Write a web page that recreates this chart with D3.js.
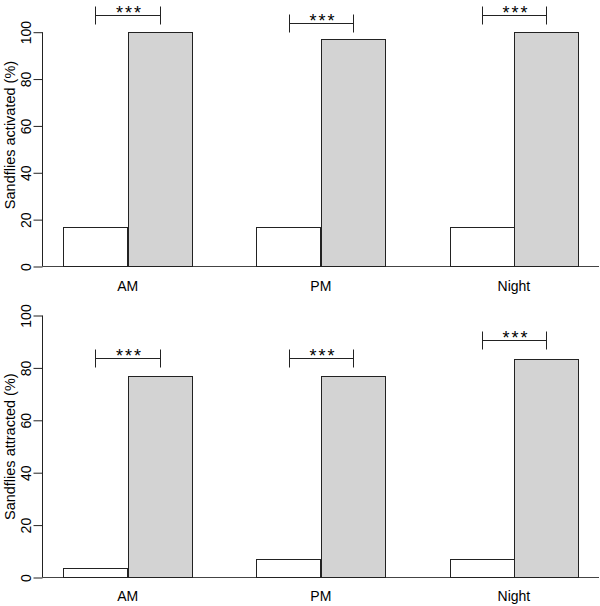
<!DOCTYPE html>
<html><head><meta charset="utf-8">
<script src="https://cdn.jsdelivr.net/npm/d3@7"></script>
<style>body{margin:0;background:#fff}svg{display:block;font-family:"Liberation Sans",Arial,sans-serif}</style>
</head><body>
<script>
const categories = ["AM", "PM", "Night"];
const series = ["control", "treatment"];
const activatedControl = [16.7, 16.7, 16.7];
const activatedTreatment = [100, 96.7, 100];
const attractedControl = [3.3, 6.7, 6.7];
const attractedTreatment = [76.7, 76.7, 83.3];
const yTicks = [0, 20, 40, 60, 80, 100];
const significance = ["***", "***", "***"];
const panelTitles = ["Sandflies activated (%)", "Sandflies attracted (%)"];

const W = 600, H = 606;
const svg = d3.select("body").append("svg").attr("width", W).attr("height", H);

const panels = [
  {ctrl: activatedControl, trt: activatedTreatment, label: panelTitles[0], y0: 266, y100: 31.7, labY: 135, catY: 290.5},
  {ctrl: attractedControl, trt: attractedTreatment, label: panelTitles[1], y0: 577, y100: 315, labY: 446.7, catY: 601}
];

const x = d3.scaleBand().domain(categories).range([63.3, 578.3]).paddingInner(1/3).paddingOuter(0);
const xs = d3.scaleBand().domain(series).range([0, x.bandwidth()]);
const fills = {control: "#ffffff", treatment: "#d3d3d3"};

panels.forEach(p => {
  const y = d3.scaleLinear().domain([0, 100]).range([p.y0, p.y100]);
  const g = svg.append("g");

  // baseline
  g.append("line").attr("x1", 42.5).attr("x2", 599).attr("y1", y(0) + 0.5).attr("y2", y(0) + 0.5)
    .attr("stroke", "#444").attr("stroke-width", 1);

  // y axis
  const ax = g.append("g").attr("transform", "translate(42.5,0.5)")
    .call(d3.axisLeft(y).tickValues(yTicks).tickSize(9).tickPadding(3).tickFormat(d3.format("d")));
  ax.select(".domain").attr("stroke", "#222").attr("d", `M0,${y(0)}V${y(100)}`);
  ax.selectAll(".tick line").attr("stroke", "#222");
  ax.selectAll(".tick text")
    .attr("font-size", 14).attr("fill", "#000")
    .attr("transform", "rotate(-90)")
    .attr("x", 0).attr("y", -12).attr("dy", 0)
    .attr("text-anchor", "middle");

  // y label
  g.append("text").attr("transform", `translate(15,${p.labY}) rotate(-90)`)
    .attr("text-anchor", "middle").attr("font-size", 14.5).attr("fill", "#000").text(p.label);

  // bars
  const data = [];
  categories.forEach((c, i) => {
    data.push({cat: c, s: "control", v: p.ctrl[i]});
    data.push({cat: c, s: "treatment", v: p.trt[i]});
  });
  g.selectAll("rect.bar").data(data).join("rect").attr("class", "bar")
    .attr("x", d => Math.round(x(d.cat) + xs(d.s)) + 0.5)
    .attr("width", d => Math.round(xs.bandwidth()))
    .attr("y", d => Math.round(y(d.v)) + 0.5)
    .attr("height", d => Math.round(y(0)) - Math.round(y(d.v)))
    .attr("fill", d => fills[d.s]).attr("stroke", "#222").attr("stroke-width", 1);

  // category labels
  g.selectAll("text.cat").data(categories).join("text").attr("class", "cat")
    .attr("x", d => x(d) + x.bandwidth() / 2).attr("y", p.catY)
    .attr("text-anchor", "middle").attr("font-size", 14).attr("fill", "#000").text(d => d);

  // significance brackets
  categories.forEach((c, i) => {
    const top = Math.max(p.ctrl[i], p.trt[i]) + 7;
    const by = Math.round(y(top)) + 0.5;
    const xa = Math.round(x(c) + xs("control") + xs.bandwidth() / 2) + 0.5;
    const xb = Math.round(x(c) + xs("treatment") + xs.bandwidth() / 2) + 0.5;
    g.append("path").attr("d", `M${xa},${by - 9}V${by + 9}M${xa},${by}H${xb}M${xb},${by - 9}V${by + 9}`)
      .attr("stroke", "#222").attr("fill", "none");
    g.append("text").attr("x", (xa + xb) / 2 + 1.5).attr("y", by + 3)
      .attr("text-anchor", "middle").attr("font-size", 18).attr("letter-spacing", "2px")
      .attr("fill", "#000").text(significance[i]);
  });
});
</script>
</body></html>
